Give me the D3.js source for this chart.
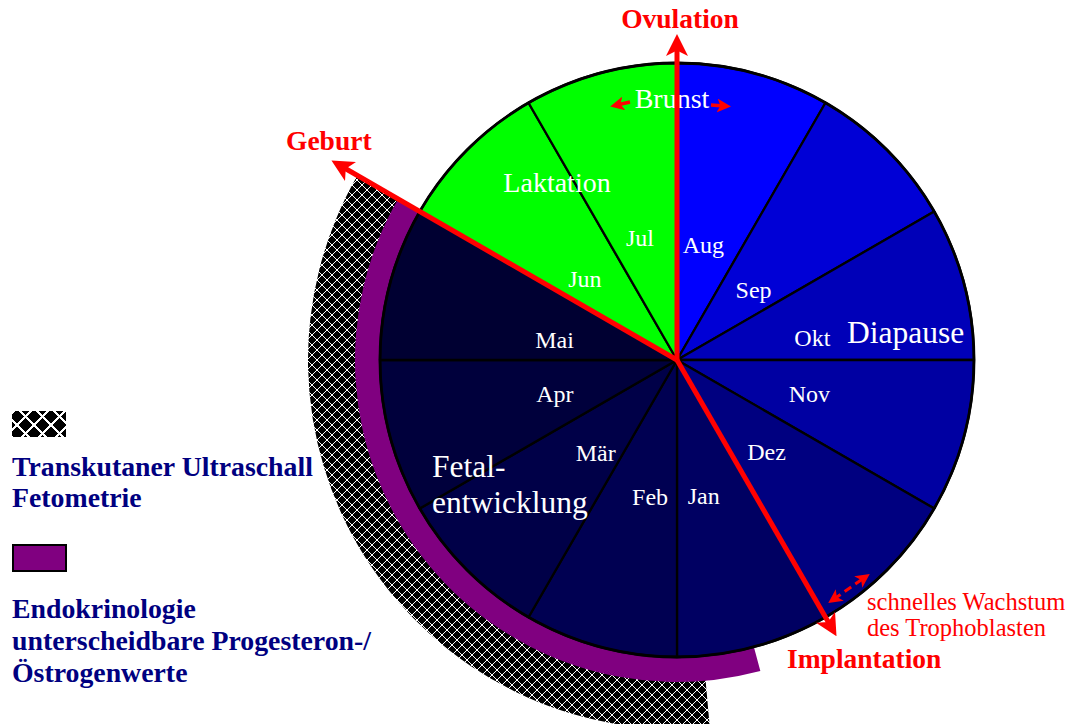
<!DOCTYPE html>
<html><head><meta charset="utf-8">
<script src="https://cdn.jsdelivr.net/npm/d3@7"></script>
<style>body{margin:0;background:#fff}svg{display:block}</style>
</head><body>
<svg id="c" width="1068" height="724"></svg>
<script>
// ---- data ----
const months = ["Aug","Sep","Okt","Nov","Dez","Jan","Feb","Mär","Apr","Mai","Jun","Jul"];
const monthWeights = [1,1,1,1,1,1,1,1,1,1,1,1];
const monthColors = ["#0000ff","#0000d6","#0000b8","#0000a2","#000080","#000062","#000052","#000048","#00003c","#000032","#00ff00","#00ff00"];
// events: label and position in month units from start of Aug
const eventNames = ["Ovulation","Geburt","Implantation"];
const eventPos = [0, 10, 5];
// phase labels
const phaseNames = ["Brunst","Laktation","Diapause","Fetal-\nentwicklung"];
// outer rings (month units, start/end, clockwise)
const ringNames = ["Endokrinologie", "Transkutaner Ultraschall"];
const endoRange = [5.5, 10];
const ultraRange = [5.83, 10];
const legendLabels = [["Transkutaner Ultraschall","Fetometrie"],["Endokrinologie","unterscheidbare Progesteron-/","Östrogenwerte"]];
const noteLines = ["schnelles Wachstum","des Trophoblasten"];

// ---- layout ----
const svg = d3.select("#c");
const cx = 677, cy = 360, R = 297;
const serif = "'Liberation Serif','Times New Roman',serif";
const ang = d3.scaleLinear().domain([0,12]).range([0, 2*Math.PI]);

const defs = svg.append("defs");
function hatch(id, s, w){
  const pat = defs.append("pattern").attr("id",id).attr("width",s).attr("height",s).attr("patternUnits","userSpaceOnUse");
  pat.append("rect").attr("width",s).attr("height",s).attr("fill","#000");
  pat.append("path").attr("d",`M0,0L${s},${s}M${s},0L0,${s}M-1,${s-1}L1,${s+1}M${s-1},-1L${s+1},1`)
    .attr("stroke","#fff").attr("stroke-width",w).attr("shape-rendering","crispEdges");
}
hatch("hatch", 10, 1);
hatch("hatchL", 17, 1.8);

function marker(id, size){
  defs.append("marker").attr("id",id).attr("viewBox","0 -10 20 20")
    .attr("refX",10).attr("refY",0).attr("markerWidth",size).attr("markerHeight",size)
    .attr("markerUnits","userSpaceOnUse").attr("orient","auto-start-reverse")
    .append("path").attr("d","M0,-10L20,0L0,10L5,0Z").attr("fill","#ff0000");
}
marker("arr", 22); marker("arrS", 14);

const g = svg.append("g").attr("transform",`translate(${cx},${cy})`);

// rings
g.append("path").attr("d", d3.arc()({innerRadius:321, outerRadius:369, startAngle:ang(ultraRange[0]), endAngle:ang(ultraRange[1])}))
  .attr("fill","url(#hatch)");
g.append("path").attr("d", d3.arc()({innerRadius:R-2, outerRadius:322, startAngle:ang(endoRange[0]), endAngle:ang(endoRange[1])}))
  .attr("fill","#800080");

// pie
const arcs = d3.pie().value(d=>d).sort(null)(monthWeights);
const arcGen = d3.arc().innerRadius(0).outerRadius(R);
g.selectAll("path.slice").data(arcs).join("path").attr("class","slice")
  .attr("d", arcGen).attr("fill",(d,i)=>monthColors[i])
  .attr("stroke","#000").attr("stroke-width",2.3).attr("stroke-linejoin","round");
g.append("circle").attr("r",R).attr("fill","none").attr("stroke","#000").attr("stroke-width",2.8);

// month labels (layout nudges in degrees and radius)
const labelShift = [-2,3,6,0,1,4,-4,-4,-1,-6,-4,-2];
const labelRad = [117,103,137,137,129,140,141,124,127,124,122,127];
g.selectAll("text.m").data(arcs).join("text").attr("class","m")
  .each(function(d,i){
    const a = (d.startAngle+d.endAngle)/2 + labelShift[i]*Math.PI/180;
    const p = d3.pointRadial(a, labelRad[i]);
    d3.select(this).attr("x",p[0]).attr("y",p[1]+7);
  })
  .attr("text-anchor","middle").attr("fill","#fff").attr("font-family",serif).attr("font-size",24)
  .text((d,i)=>months[i]);

// phase labels
const W = "#fff";
g.append("text").attr("x",672-cx).attr("y",108-cy).attr("text-anchor","middle").attr("fill",W).attr("font-family",serif).attr("font-size",28).text(phaseNames[0]);
g.append("text").attr("x",557-cx).attr("y",192-cy).attr("text-anchor","middle").attr("fill",W).attr("font-family",serif).attr("font-size",28).text(phaseNames[1]);
g.append("text").attr("x",847-cx).attr("y",343-cy).attr("fill",W).attr("font-family",serif).attr("font-size",31.5).text(phaseNames[2]);
const fe = g.append("text").attr("fill",W).attr("font-family",serif).attr("font-size",31.5);
phaseNames[3].split("\n").forEach((t,i)=>fe.append("tspan").attr("x",432-cx).attr("y",(477+36*i)-cy).text(t));

// event lines
const evLen = [325, 398, 318];
eventPos.forEach((p,i)=>{
  const a = ang(p);
  const e = d3.pointRadial(a, evLen[i]-10);
  g.append("line").attr("x1",0).attr("y1",0).attr("x2",e[0]).attr("y2",e[1])
    .attr("stroke","#ff0000").attr("stroke-width",5).attr("marker-end","url(#arr)");
});
const bold = {fill:"#ff0000","font-family":serif,"font-size":27.5,"font-weight":"bold"};
function txt(sel, x, y, s, attrs, anchor){
  const t = sel.append("text").attr("x",x).attr("y",y).text(s).attr("text-anchor",anchor||"start");
  Object.entries(attrs).forEach(([k,v])=>t.attr(k,v)); return t;
}
txt(svg, 680, 28, eventNames[0], bold, "middle");
txt(svg, 286, 150, eventNames[1], bold);
txt(svg, 787, 668, eventNames[2], bold);

// Brunst small arrows
[[630,102,617,105],[711,105,724,106]].forEach(c=>{
  svg.append("line").attr("x1",c[0]).attr("y1",c[1]).attr("x2",c[2]).attr("y2",c[3])
    .attr("stroke","#ff0000").attr("stroke-width",3.5).attr("marker-end","url(#arrS)");
});
// dashed double arrow (trophoblast growth)
svg.append("line").attr("x1",834).attr("y1",599).attr("x2",864).attr("y2",578)
  .attr("stroke","#ff0000").attr("stroke-width",3).attr("stroke-dasharray","8,5")
  .attr("marker-end","url(#arrS)").attr("marker-start","url(#arrS)");
const norm = {fill:"#ff0000","font-family":serif,"font-size":24.5};
noteLines.forEach((s,i)=>txt(svg, 867, 610+26*i, s, norm));

// legend
svg.append("rect").attr("x",12).attr("y",411).attr("width",54).attr("height",26).attr("fill","url(#hatchL)");
svg.append("rect").attr("x",13).attr("y",545).attr("width",53).attr("height",26).attr("fill","#800080").attr("stroke","#000").attr("stroke-width",2);
const leg = {fill:"#000080","font-family":serif,"font-size":27.8,"font-weight":"bold"};
legendLabels[0].forEach((s,i)=>txt(svg, 12, 476+31*i, s, leg));
legendLabels[1].forEach((s,i)=>txt(svg, 12, 618+32*i, s, leg));
</script>
</body></html>
